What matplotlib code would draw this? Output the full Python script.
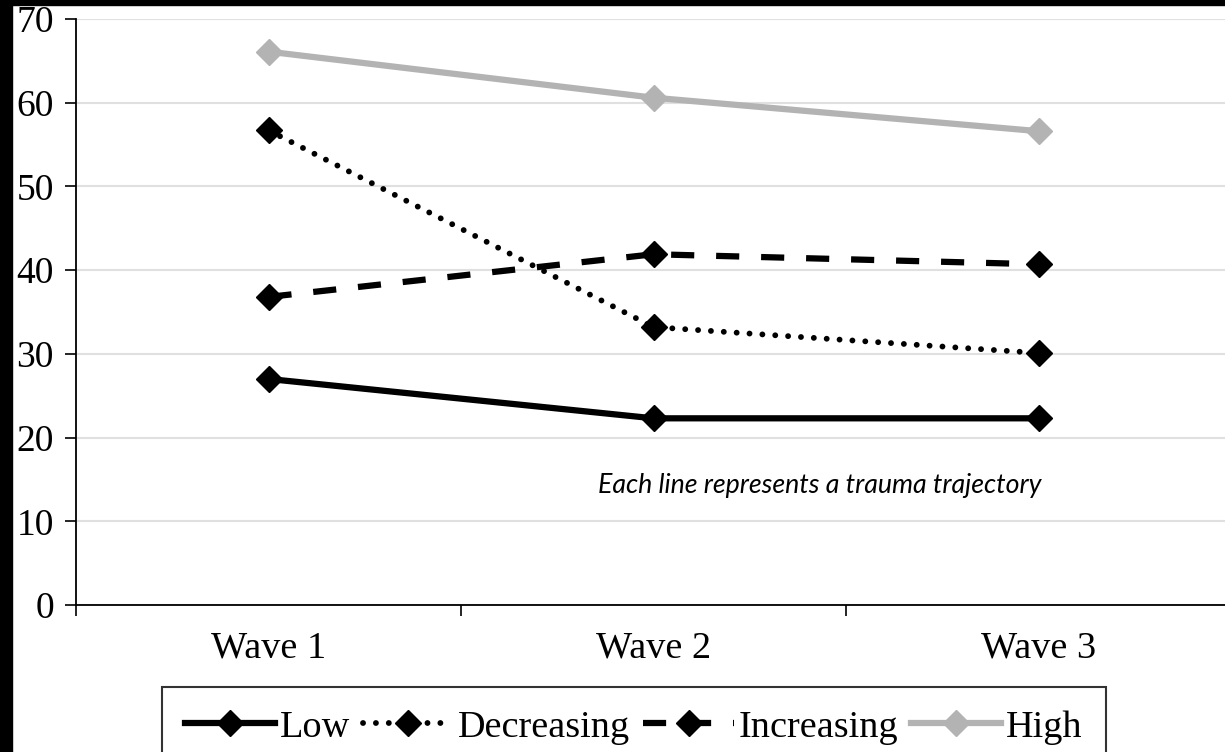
import numpy as np
import matplotlib
matplotlib.use("Agg")
import matplotlib.pyplot as plt
from matplotlib.patches import Rectangle

waves = ["Wave 1", "Wave 2", "Wave 3"]
low = [27.0, 22.3, 22.3]
decreasing = [56.7, 33.2, 30.1]
increasing = [36.8, 41.9, 40.7]
high = [66.1, 60.6, 56.6]
yticks = [0, 10, 20, 30, 40, 50, 60, 70]
note = "Each line represents a trauma trajectory"

W, H = 1225, 752
fig = plt.figure(figsize=(W / 100, H / 100), dpi=100)
ax = fig.add_axes([76 / W, 1 - 605 / H, 1155 / W, (605 - 19) / H])

x = np.arange(len(waves)) + 0.5
serif = "Liberation Serif"
ms = 13

ax.plot(x, high, color="#b3b3b3", lw=4.5, marker="D", ms=ms, label="High", zorder=3)
ax.plot(x, decreasing, color="black", lw=4.2, marker="D", ms=ms, dashes=(0.01, 2.2),
        dash_capstyle="round", label="Decreasing", zorder=4)
ax.plot(x, increasing, color="black", lw=4.5, marker="D", ms=ms, dashes=(3.7, 3.5),
        label="Increasing", zorder=4)
ax.plot(x, low, color="black", lw=4.5, marker="D", ms=ms, label="Low", zorder=4)

ax.set_xlim(0, 3)
ax.set_ylim(0, 70)
ax.set_yticks(yticks)
ax.set_yticklabels([str(v) for v in yticks], fontfamily=serif, fontsize=27)
ax.set_xticks([0, 1, 2, 3])
ax.set_xticklabels([])
ax.set_xticks(x, minor=True)
ax.set_xticklabels(waves, minor=True, fontfamily=serif, fontsize=27.5)
ax.tick_params(axis="x", which="minor", length=0, pad=19)
ax.tick_params(axis="x", which="major", length=8, width=1.2, direction="out")
ax.tick_params(axis="y", length=8, width=1.2, pad=8)
ax.yaxis.grid(True, color="#e0e0e0", lw=1.5)
ax.set_axisbelow(True)
for s in ["top", "right"]:
    ax.spines[s].set_visible(False)
ax.spines["left"].set_linewidth(1.3)
ax.spines["bottom"].set_linewidth(1.3)

ax.text(598 / W, 1 - 485 / H, note, transform=fig.transFigure, fontfamily="Lato",
        style="italic", fontsize=19.3, va="center", ha="left")

h, l = ax.get_legend_handles_labels()
order = [3, 1, 2, 0]
leg = fig.legend([h[i] for i in order], [l[i] for i in order], loc="upper left",
                 bbox_to_anchor=(162 / W, 1 - 687 / H), ncol=4, numpoints=1,
                 prop={"family": serif, "size": 27.5}, frameon=True, fancybox=False,
                 edgecolor="black", handlelength=2.36, handletextpad=0.13,
                 columnspacing=0.34, borderpad=0.6, borderaxespad=0)
leg.get_frame().set_linewidth(1.5)

# black scan border on left and top
fig.add_artist(Rectangle((0, 0), 12 / W, 1, transform=fig.transFigure, color="black", zorder=10))
fig.add_artist(Rectangle((0, 1 - 5 / H), 1, 5 / H, transform=fig.transFigure, color="black", zorder=10))

fig.savefig("out.png", dpi=100)
